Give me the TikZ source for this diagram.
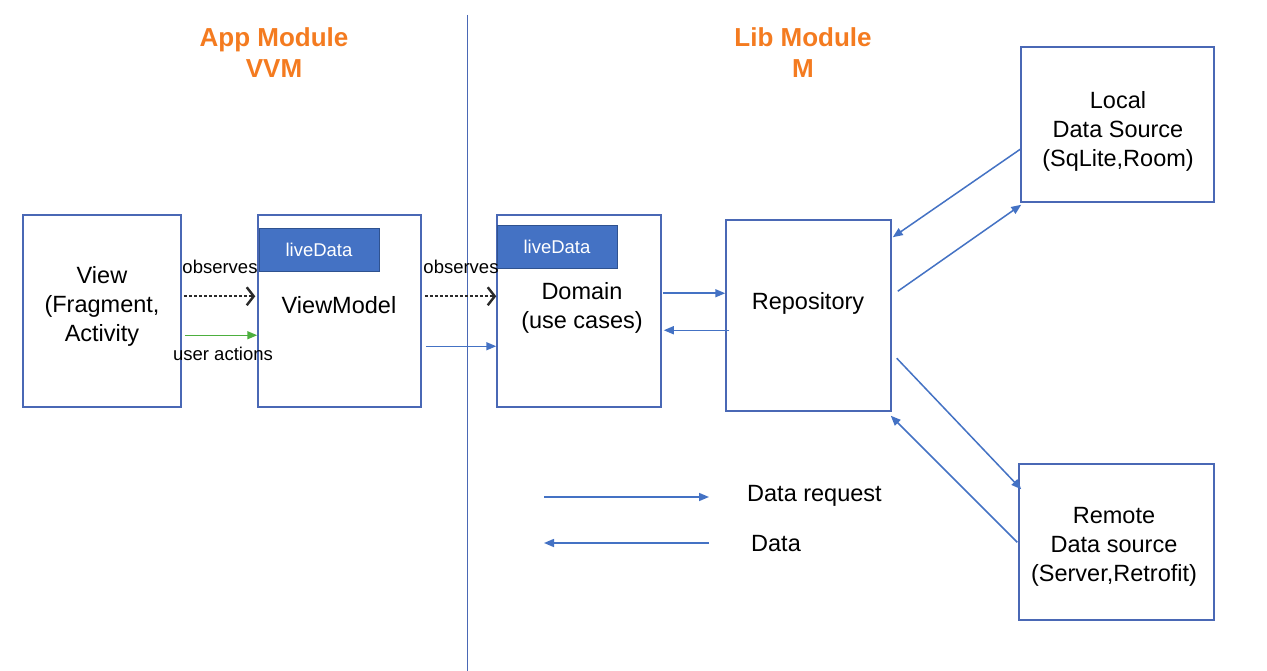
\documentclass[tikz,border=0pt]{standalone}
\usepackage{fontspec}
\setmainfont{Liberation Sans}
\usetikzlibrary{arrows.meta,calc}
\definecolor{boxblue}{HTML}{4A68B5}
\definecolor{arrblue}{HTML}{4472C4}
\definecolor{ldfill}{HTML}{4472C4}
\definecolor{ldline}{HTML}{2F528F}
\definecolor{orangeT}{HTML}{F47B20}
\definecolor{greenA}{HTML}{4CAF3E}
\definecolor{dashgray}{HTML}{2A2A2A}
\tikzset{
  box/.style={draw=boxblue, line width=1.5pt, inner sep=0pt, align=center, font=\fontsize{23.5}{29}\selectfont},
  ld/.style={draw=ldline, fill=ldfill, line width=0.8pt, inner sep=0pt, minimum width=120pt, minimum height=43pt, text=white, font=\fontsize{18.5}{22}\selectfont},
  lbl/.style={inner sep=0pt, align=center, font=\fontsize{23.5}{29}\selectfont},
  small/.style={inner sep=0pt, font=\fontsize{18.5}{22}\selectfont},
  title/.style={inner sep=0pt, align=center, text=orangeT, font=\fontsize{26}{31}\selectfont\bfseries},
  barr/.style={draw=arrblue, line width=1.5pt, -{Triangle[length=10pt,width=8pt]}},
  garr/.style={draw=greenA, line width=1.5pt, -{Triangle[length=10pt,width=8pt]}},
  darr/.style={draw=dashgray, line width=2.4pt, dash pattern=on 3pt off 2pt, -{Straight Barb[length=7pt,width=18pt]}},
}
\begin{document}
\begin{tikzpicture}[x=1pt,y=-1pt]
\useasboundingbox (0,0) rectangle (1267,671);
\fill[white] (0,0) rectangle (1267,671);
% divider
\coordinate (divtop) at (467.5,15);
\coordinate (divbot) at (467.5,671);
\draw[boxblue, line width=1pt] (divtop) -- (divbot);
% titles
\node[title] (tapp) at (274,53) {App Module\\VVM};
\node[title] (tlib) at (803,53) {Lib Module\\M};
% boxes
\node[box, minimum width=158pt, minimum height=192pt] (view) at (102,311) {};
\node[lbl] (viewt) at (102,306) {View\\(Fragment,\\Activity};
\node[box, minimum width=163pt, minimum height=192pt] (vm) at (339.5,311) {};
\node[lbl] (vmt) at (339,305) {ViewModel};
\node[ld] (vmld) at (319,249.5) {liveData};
\node[box, minimum width=164pt, minimum height=192pt] (dom) at (579,311) {};
\node[lbl] (domt) at (582,307.5) {Domain\\(use cases)};
\node[ld] (domld) at (557,246.5) {liveData};
\node[box, minimum width=165pt, minimum height=191pt] (repo) at (808.5,315.5) {};
\node[lbl] (repot) at (808,303) {Repository};
\node[box, minimum width=193pt, minimum height=155pt] (local) at (1117.5,124.5) {};
\node[lbl] (localt) at (1118,131.5) {Local\\Data Source\\(SqLite,Room)};
\node[box, minimum width=195pt, minimum height=156pt] (remote) at (1116.5,542) {};
\node[lbl] (remotet) at (1114,546.5) {Remote\\Data source\\(Server,Retrofit)};
% small labels
\node[small] (obs1) at (220,267) {observes};
\node[small] (obs2) at (461,267) {observes};
\node[small] (ua) at (223,354) {user actions};
% arrows app module
\draw[darr] ($(view.north east)+(2,82)$) -- ($(vm.north west)+(-2,82)$);
\draw[darr] ($(vm.north east)+(3,82)$) -- ($(dom.north west)+(0,82)$);
\draw[garr] ($(view.north east)+(3,121)$) -- ($(vm.north west)+(0,121)$);
\draw[barr] ($(vm.north east)+(4,132)$) -- ($(dom.north west)+(0,132)$);
% domain <-> repo
\draw[barr] ($(dom.north east)+(1,79)$) -- ($(repo.north west)+(0,74)$);
\draw[barr] ($(repo.north west)+(4,111)$) -- ($(dom.north east)+(2,116)$);
% repo <-> local
\draw[barr] ($(local.north west)+(0,103)$) -- ($(repo.north east)+(1,18)$);
\draw[barr] ($(repo.north east)+(6,72)$) -- ($(local.south west)+(1,2)$);
% repo <-> remote
\draw[barr] ($(repo.north east)+(5,139)$) -- ($(remote.north west)+(3,26)$);
\draw[barr] ($(remote.north west)+(-1,79)$) -- ($(repo.south east)+(-1,4)$);
% legend
\coordinate (l1a) at (544,497);
\coordinate (l1b) at (709,497);
\coordinate (l2a) at (709,543);
\coordinate (l2b) at (544,543);
\draw[barr] (l1a) -- (l1b);
\draw[barr] (l2a) -- (l2b);
\node[lbl, anchor=west] (lg1) at (747,496) {Data request};
\node[lbl, anchor=west] (lg2) at (751,544) {Data};
\end{tikzpicture}
\end{document}
